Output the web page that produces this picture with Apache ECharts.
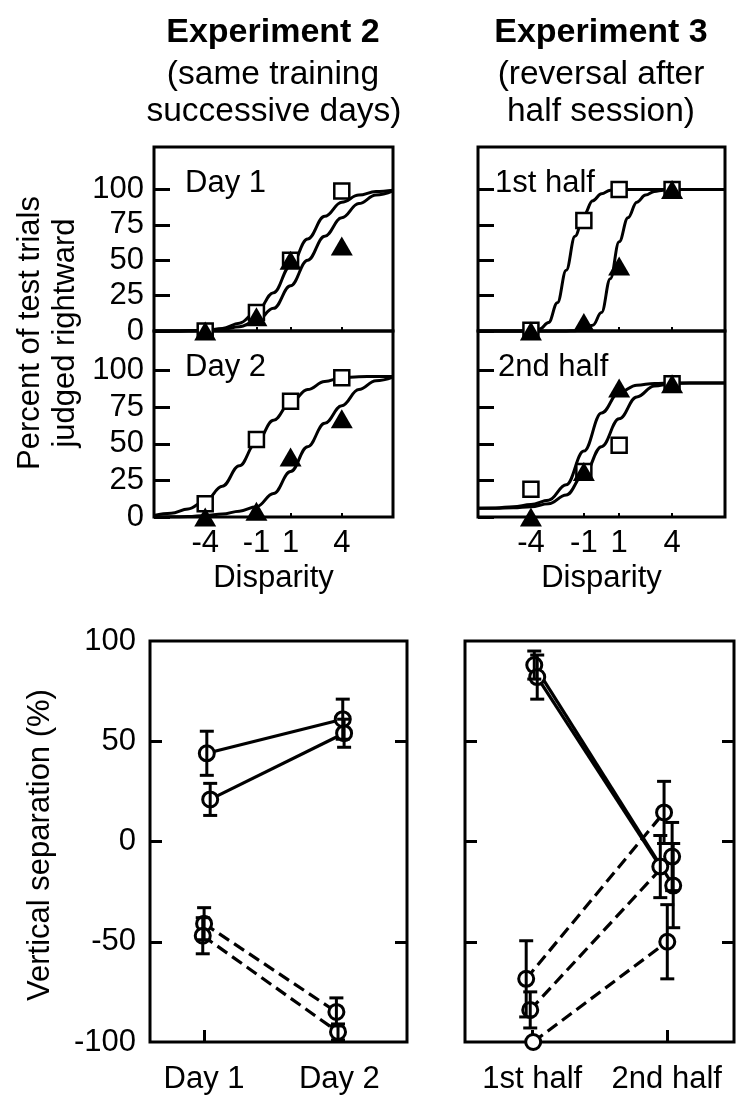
<!DOCTYPE html>
<html>
<head>
<meta charset="utf-8">
<script src="https://cdn.jsdelivr.net/npm/echarts@6/dist/echarts.min.js"></script>
<style>html,body{margin:0;padding:0;background:#fff}#c{width:751px;height:1108px}</style>
</head>
<body>
<div id="c"></div>
<script>
// ---------- data: psychometric panels ----------
const stimX = [-4, -1, 1, 4];
const pctTicks = [0, 25, 50, 75, 100];

const day1Squares = [0, 13, 50, 99];
const day1Triangles = [0, 10, 50, 60];
const day2Squares = [9, 53, 79, 95];
const day2Triangles = [0, 4, 41, 67];
const half1Squares = [0.5, 78, 100, 100];
const half1Triangles = [0, 6, 46, 100];
const half2Squares = [19, 31, 49, 91];
const half2Triangles = [0, 31, 88, 91];

// fitted curves
const fitX = [-7, -6, -5, -4, -3, -2, -1, 0, 1, 2, 3, 4, 5, 6, 7];
const day1SqFit = [0, 0, 0.1, 0.5, 1.8, 5.5, 13.5, 27, 46, 65, 81, 91, 96, 98.5, 99.5];
const day1TriFit = [0, 0, 0.1, 0.3, 1, 3, 7, 16, 32, 50, 67, 80, 90, 96, 99];
const day2SqFit = [1, 2.5, 5.5, 11, 21, 35, 51, 66, 78, 87, 92.5, 95, 95.8, 96, 96];
const day2TriFit = [0, 0.1, 0.3, 1, 2, 4, 7, 16, 31, 48, 64, 76, 87, 93, 95.5];
const half1SqFitX = [-7, -5, -4, -3.5, -3, -2.5, -2, -1.5, -1, -0.5, 0, 0.5, 1, 2, 4, 7];
const half1SqFit = [0, 0, 0, 1.5, 6, 20, 43, 67, 82, 92, 97, 99.5, 100, 100, 100, 100];
const half1TriFitX = [-7, -3, -2, -1.5, -1, -0.5, 0, 0.5, 1, 1.5, 2, 2.5, 3, 3.5, 4, 7];
const half1TriFit = [0, 0, 0, 0.2, 1, 4, 13, 37, 63, 80, 91, 96, 98.5, 99.5, 100, 100];
const half2SqFit = [6, 6, 6.3, 7, 9, 15, 29, 48, 67, 82, 89.5, 91.2, 91.5, 91.5, 91.5];
const half2TriFit = [6, 6.2, 7, 8.5, 11.5, 22, 45, 71, 85, 90, 91.2, 91.5, 91.5, 91.5, 91.5];

// ---------- data: vertical separation panels ----------
const sepTicks = [-100, -50, 0, 50, 100];
const exp2Labels = ['Day 1', 'Day 2'];
const exp2Day1 = [44, 21, -41, -47];
const exp2Day2 = [61, 54, -85, -95];
const exp2Day1Err = [11, 8, 8, 9];
const exp2Day2Err = [10, 7, 7, 4];
const exp2Day1X = [1.02, 1.045, 1.0, 0.99];
const exp2Day2X = [2.025, 2.035, 1.978, 1.99];
const exp2Dashed = [false, false, true, true];

const exp3Labels = ['1st half', '2nd half'];
const exp3Half1 = [88, 82, -68.5, -84, -100];
const exp3Half2 = [-22, -12.5, 14.5, -7.5, -50];
const exp3Half1Err = [7, 11, 19, 9, 0];
const exp3Half2Err = [21, 15.5, 15.5, 17, 18.5];
const exp3Half1X = [1.015, 1.037, 0.955, 0.985, 1.007];
const exp3Half2X = [2.048, 1.952, 1.98, 2.04, 2.004];
const exp3Dashed = [false, false, true, true, true];

// ---------- chart ----------
const FONT = '"Liberation Sans", Arial, Helvetica, sans-serif';
const BLACK = '#000';
const chart = echarts.init(document.getElementById('c'), null, {renderer: 'canvas'});

const grids = [
  {left: 154, top: 147, width: 239, height: 184},
  {left: 154, top: 331, width: 239, height: 186},
  {left: 478, top: 147, width: 247, height: 184},
  {left: 478, top: 331, width: 247, height: 186},
  {left: 150, top: 641, width: 257, height: 401},
  {left: 465, top: 641, width: 269, height: 401}
].map(g => Object.assign(g, {show: true, borderColor: BLACK, borderWidth: 3, backgroundColor: 'transparent'}));

function topX(gi, labels) {
  return {
    type: 'value', gridIndex: gi, min: -7, max: 7, interval: 1,
    axisLine: {show: false, onZero: false}, splitLine: {show: false},
    axisTick: {show: true, inside: true, length: 4, customValues: stimX, lineStyle: {color: BLACK, width: 2}},
    axisLabel: {show: labels, customValues: stimX, color: BLACK, fontSize: 31, fontFamily: FONT, margin: 11},
    name: labels ? 'Disparity' : '', nameLocation: 'middle', nameGap: 46,
    nameTextStyle: {color: BLACK, fontSize: 31, fontFamily: FONT}
  };
}
function topY(gi, max, labels) {
  return {
    type: 'value', gridIndex: gi, min: 0, max: max,
    axisLine: {show: false, onZero: false}, splitLine: {show: false},
    axisTick: {show: true, inside: true, length: 16, customValues: pctTicks, lineStyle: {color: BLACK, width: 3}},
    axisLabel: {show: labels, customValues: pctTicks, color: BLACK, fontSize: 31, fontFamily: FONT, margin: 10}
  };
}
function botX(gi, min, max, labels) {
  return {
    type: 'value', gridIndex: gi, min: min, max: max,
    axisLine: {show: false, onZero: false}, splitLine: {show: false},
    axisTick: {show: true, inside: true, length: 12, customValues: [1, 2], lineStyle: {color: BLACK, width: 3}},
    axisLabel: {customValues: [1, 2], formatter: v => labels[Math.round(v) - 1], color: BLACK, fontSize: 31, fontFamily: FONT, margin: 22}
  };
}
function botY(gi, labels, position, ticks) {
  return {
    type: 'value', gridIndex: gi, min: -100, max: 100, interval: 50, position: position,
    axisLine: {show: false, onZero: false}, splitLine: {show: false},
    axisTick: {show: true, inside: true, length: 12, customValues: ticks, lineStyle: {color: BLACK, width: 3}},
    axisLabel: {show: labels, customValues: sepTicks, color: BLACK, fontSize: 31, fontFamily: FONT, margin: 14}
  };
}

const xAxes = [topX(0, false), topX(1, true), topX(2, false), topX(3, true), botX(4, 0.6, 2.5, exp2Labels), botX(5, 0.5, 2.5, exp3Labels)];
const yAxes = [
  topY(0, 130, true), topY(1, 127, true), topY(2, 130, false), topY(3, 127, false),
  botY(4, true, 'left', [-50, 0, 50]), botY(5, false, 'left', [-50, 0, 50]),
  botY(4, false, 'right', [-50, 50]), botY(5, false, 'right', [-50, 0, 50])
];

const series = [];
function addFit(xs, ys, gi) {
  series.push({type: 'line', xAxisIndex: gi, yAxisIndex: gi, data: xs.map((x, i) => [x, ys[i]]),
    smooth: 0.4, smoothMonotone: 'x', symbol: 'none', lineStyle: {color: BLACK, width: 3, opacity: 1}, clip: false, z: 2, silent: true});
}
function addMarks(sq, tri, gi) {
  series.push({type: 'scatter', xAxisIndex: gi, yAxisIndex: gi, data: stimX.map((x, i) => [x, sq[i]]),
    symbol: 'rect', symbolSize: 15, itemStyle: {color: '#fff', borderColor: BLACK, borderWidth: 2.5, opacity: 1}, clip: false, z: 4, silent: true});
  series.push({type: 'scatter', xAxisIndex: gi, yAxisIndex: gi, data: stimX.map((x, i) => [x, tri[i]]),
    symbol: 'triangle', symbolSize: [22, 19], itemStyle: {color: BLACK, opacity: 1}, clip: false, z: 5, silent: true});
}
addFit(fitX, day1SqFit, 0); addFit(fitX, day1TriFit, 0); addMarks(day1Squares, day1Triangles, 0);
addFit(fitX, day2SqFit, 1); addFit(fitX, day2TriFit, 1); addMarks(day2Squares, day2Triangles, 1);
addFit(half1SqFitX, half1SqFit, 2); addFit(half1TriFitX, half1TriFit, 2); addMarks(half1Squares, half1Triangles, 2);
addFit(fitX, half2SqFit, 3); addFit(fitX, half2TriFit, 3); addMarks(half2Squares, half2Triangles, 3);

function addSep(x1, y1, x2, y2, dashed, gi) {
  series.push({type: 'line', xAxisIndex: gi, yAxisIndex: gi, data: [[x1, y1], [x2, y2]],
    symbol: 'circle', symbolSize: 15, showAllSymbol: true,
    itemStyle: {color: '#fff', borderColor: BLACK, borderWidth: 3, opacity: 1},
    lineStyle: {color: BLACK, width: 3.2, type: dashed ? [12, 6] : 'solid', opacity: 1}, clip: false, z: 2, silent: true});
}
function errorRender(params, api) {
  const x = api.value(0), lo = api.value(1), hi = api.value(2);
  const a = api.coord([x, lo]), b = api.coord([x, hi]);
  const st = {stroke: BLACK, lineWidth: 3};
  const w = 7;
  return {type: 'group', children: [
    {type: 'line', shape: {x1: a[0], y1: a[1], x2: b[0], y2: b[1]}, style: st},
    {type: 'line', shape: {x1: a[0] - w, y1: a[1], x2: a[0] + w, y2: a[1]}, style: st},
    {type: 'line', shape: {x1: b[0] - w, y1: b[1], x2: b[0] + w, y2: b[1]}, style: st}
  ]};
}
function addErr(rows, gi) {
  series.push({type: 'custom', xAxisIndex: gi, yAxisIndex: gi, renderItem: errorRender, data: rows, clip: false, z: 6, silent: true});
}
const err2 = [];
exp2Day1.forEach((v, i) => {
  addSep(exp2Day1X[i], v, exp2Day2X[i], exp2Day2[i], exp2Dashed[i], 4);
  err2.push([exp2Day1X[i], v - exp2Day1Err[i], v + exp2Day1Err[i]]);
  err2.push([exp2Day2X[i], exp2Day2[i] - exp2Day2Err[i], exp2Day2[i] + exp2Day2Err[i]]);
});
addErr(err2, 4);
const err3 = [];
exp3Half1.forEach((v, i) => {
  addSep(exp3Half1X[i], v, exp3Half2X[i], exp3Half2[i], exp3Dashed[i], 5);
  if (exp3Half1Err[i] > 0) err3.push([exp3Half1X[i], v - exp3Half1Err[i], v + exp3Half1Err[i]]);
  err3.push([exp3Half2X[i], exp3Half2[i] - exp3Half2Err[i], exp3Half2[i] + exp3Half2Err[i]]);
});
addErr(err3, 5);

function txt(text, x, y, opts) {
  return Object.assign({type: 'text', x: x, y: y, silent: true,
    style: Object.assign({text: text, fill: BLACK, font: '31px ' + FONT, textAlign: 'center', textVerticalAlign: 'middle'}, (opts && opts.style) || {})},
    (opts && opts.el) || {});
}
const graphic = [
  txt('Experiment 2', 273, 33, {style: {font: 'bold 34px ' + FONT}}),
  txt('(same training', 273, 75, {style: {font: '33.5px ' + FONT}}),
  txt('successive days)', 274, 112, {style: {font: '33.5px ' + FONT}}),
  txt('Experiment 3', 601, 33, {style: {font: 'bold 34px ' + FONT}}),
  txt('(reversal after', 601, 75, {style: {font: '33.5px ' + FONT}}),
  txt('half session)', 601, 112, {style: {font: '33.5px ' + FONT}}),
  txt('Day 1', 185, 183, {style: {textAlign: 'left'}}),
  txt('Day 2', 185, 367, {style: {textAlign: 'left'}}),
  txt('1st half', 495, 183, {style: {textAlign: 'left'}}),
  txt('2nd half', 498, 367, {style: {textAlign: 'left'}}),
  txt('Percent of test trials', 30, 333, {el: {rotation: Math.PI / 2}}),
  txt('judged rightward', 65, 333, {el: {rotation: Math.PI / 2}}),
  txt('Vertical separation (%)', 40, 845, {el: {rotation: Math.PI / 2}})
];

chart.setOption({
  animation: false,
  backgroundColor: '#fff',
  grid: grids,
  xAxis: xAxes,
  yAxis: yAxes,
  series: series,
  graphic: graphic
});
</script>
</body>
</html>
